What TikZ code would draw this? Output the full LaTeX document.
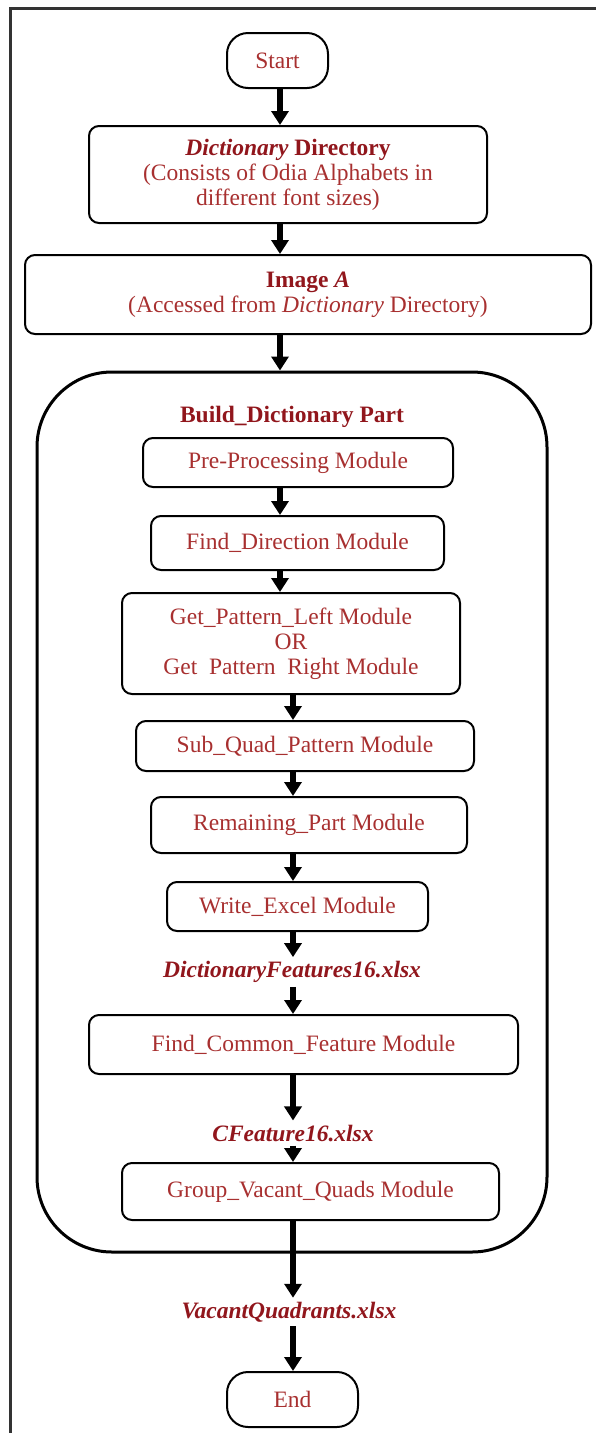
\documentclass[tikz,border=0pt]{standalone}
\usepackage{fontspec}
\setmainfont{Liberation Serif}
\usepackage{tikz}
\usetikzlibrary{positioning}
\usetikzlibrary{arrows.meta}
\usepackage{xcolor}
\definecolor{txtred}{RGB}{168,48,48}
\definecolor{boldred}{RGB}{145,22,28}
\tikzstyle{M} = [rectangle,rounded corners=10pt,draw=black,line width=2pt,fill=white,text=txtred,align=center,inner sep=0pt]
\tikzstyle{T} = [M,rounded corners=21pt]
\tikzstyle{F} = [text=boldred,font=\bfseries\itshape,inner sep=4pt]
\tikzset{>={Triangle[width=17pt,length=14pt]}}

\begin{document}
\fontsize{23.5}{25}\selectfont
\begin{tikzpicture}[x=1pt,y=-1pt]
  \useasboundingbox (0,0) rectangle (596,1433);
  \draw [line width=3pt,black!80] (596,8) -- (10,8) -- (10,1433);

  \node [T,minimum width=101pt,minimum height=55pt] (n1) at (277.5,60.5) {Start};
  \node [M,minimum width=398pt,minimum height=97pt] (n2) at (288,174.5)
  {\textcolor{boldred}{\textbf{\textit{Dictionary} Directory}}\\(Consists of Odia Alphabets in\\different font sizes)};
  \node [M,minimum width=566pt,minimum height=79pt] (n3) at (308,294.5)
  {\textcolor{boldred}{\textbf{Image \textit{A}}}\\(Accessed from \textit{Dictionary} Directory)};

  \node [draw=black,line width=3pt,rectangle,rounded corners=75pt,
  minimum width=510pt,minimum height=880pt] (r1) at (292,812) {};
  \node [text=boldred,font=\bfseries] (c1) at (292,417) {Build\_Dictionary Part};

  \node [M,minimum width=310pt,minimum height=49pt] (n4) at (298,462.5) {Pre-Processing Module};
  \node [M,minimum width=293pt,minimum height=54pt] (n5) at (297.5,543) {Find\_Direction Module};
  \node [M,minimum width=338pt,minimum height=101pt] (n6) at (291,643.5)
  {Get\_Pattern\_Left Module\\OR\\Get\enspace Pattern\enspace Right Module};
  \node [M,minimum width=338pt,minimum height=50pt] (n7) at (305,746) {Sub\_Quad\_Pattern Module};
  \node [M,minimum width=316pt,minimum height=56pt] (n8) at (309,825) {Remaining\_Part Module};
  \node [M,minimum width=261pt,minimum height=49pt] (n9) at (297.5,906.5) {Write\_Excel Module};
  \node [F] (f1) at (292,972) {DictionaryFeatures16.xlsx};
  \node [M,minimum width=429pt,minimum height=59pt] (n10) at (303.5,1044.5) {Find\_Common\_Feature Module};
  \node [F] (f2) at (293,1133) {CFeature16.xlsx};
  \node [M,minimum width=377pt,minimum height=57pt] (n11) at (310.5,1191.5) {Group\_Vacant\_Quads Module};

  \node [F] (f3) at (289,1312) {VacantQuadrants.xlsx};
  \node [T,minimum width=131pt,minimum height=55pt] (n12) at (292.5,1399.5) {End};

  % arrow lanes
  \coordinate (a1) at (280,0);
  \coordinate (a2) at (293,0);

  \draw [->,line width=5.5pt] (n1.south -| a1) -- (n2.north -| a1);
  \draw [->,line width=5.5pt] (n2.south -| a1) -- (n3.north -| a1);
  \draw [->,line width=5.5pt] (n3.south -| a1) -- (r1.north -| a1);
  \draw [->,line width=5.5pt] (n4.south -| a1) -- (n5.north -| a1);
  \draw [->,line width=5.5pt] (n5.south -| a1) -- (n6.north -| a1);
  \draw [->,line width=5.5pt] (n6.south -| a2) -- (n7.north -| a2);
  \draw [->,line width=5.5pt] (n7.south -| a2) -- (n8.north -| a2);
  \draw [->,line width=5.5pt] (n8.south -| a2) -- (n9.north -| a2);
  \draw [->,line width=5.5pt] (n9.south -| a2) -- (f1.north -| a2);
  \draw [->,line width=5.5pt] (f1.south -| a2) -- (n10.north -| a2);
  \draw [->,line width=5.5pt] (n10.south -| a2) -- (f2.north -| a2);
  \draw [->,line width=5.5pt] (f2.south -| a2) -- (n11.north -| a2);
  \draw [->,line width=5.5pt] (n11.south -| a2) -- (f3.north -| a2);
  \draw [->,line width=5.5pt] (f3.south -| a2) -- (n12.north -| a2);

\end{tikzpicture}
\end{document}
